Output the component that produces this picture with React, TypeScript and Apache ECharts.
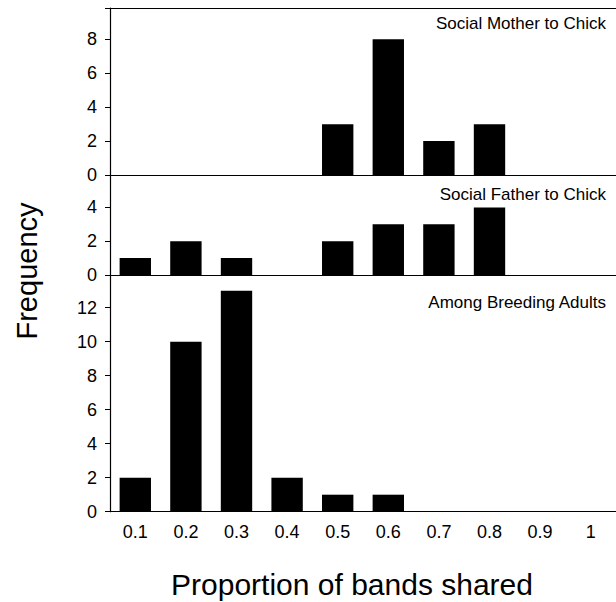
import React, { useEffect, useRef } from "react";
import * as echarts from "echarts";

const categories = ["0.1", "0.2", "0.3", "0.4", "0.5", "0.6", "0.7", "0.8", "0.9", "1"];
const motherToChick = [0, 0, 0, 0, 3, 8, 2, 3, 0, 0];
const fatherToChick = [1, 2, 1, 0, 2, 3, 3, 4, 0, 0];
const amongAdults = [2, 10, 13, 2, 1, 1, 0, 0, 0, 0];
const panelTitles = ["Social Mother to Chick", "Social Father to Chick", "Among Breeding Adults"];
const panelMax = [9.85, 5.92, 13.92];
const yTitle = "Frequency";
const xTitle = "Proportion of bands shared";

const FONT = "'Liberation Sans', Arial, Helvetica, sans-serif";

export default function App() {
  const ref = useRef<HTMLDivElement>(null);
  useEffect(() => {
    document.body.style.margin = "0";
    if (!ref.current) return;
    const chart = echarts.init(ref.current, undefined, { renderer: "svg" });
    const grids = [
      { left: 110, top: 8, height: 167, right: 0 },
      { left: 110, top: 175, height: 100, right: 0 },
      { left: 110, top: 275, height: 236.7, right: 0 },
    ];
    const series = [motherToChick, fatherToChick, amongAdults];
    const xAxes: any[] = grids.map((_, i) => ({
      type: "category",
      gridIndex: i,
      data: categories,
      boundaryGap: true,
      axisLine: { show: true, lineStyle: { color: "#000", width: 1.2 } },
      axisTick: { show: false },
      axisLabel: {
        show: i === 2,
        color: "#000",
        fontSize: 18,
        fontFamily: FONT,
        margin: 11,
      },
      splitLine: { show: false },
    }));
    xAxes.push({
      type: "category",
      gridIndex: 0,
      position: "top",
      data: categories,
      axisLine: { show: true, lineStyle: { color: "#000", width: 1 } },
      axisTick: { show: false },
      axisLabel: { show: false },
      splitLine: { show: false },
    });
    const yAxes = grids.map((_, i) => ({
      type: "value",
      gridIndex: i,
      min: 0,
      max: panelMax[i],
      interval: 2,
      axisLine: { show: true, lineStyle: { color: "#000", width: 1.2 } },
      axisTick: { show: true, inside: false, length: 5, lineStyle: { color: "#000" } },
      axisLabel: {
        color: "#000",
        fontSize: 18,
        fontFamily: FONT,
        margin: 13,
        formatter: (v: number) => (Math.abs(v % 2) < 1e-9 ? String(v) : ""),
      },
      splitLine: { show: false },
    }));
    chart.setOption({
      animation: false,
      backgroundColor: "#fff",
      grid: grids,
      xAxis: xAxes,
      yAxis: yAxes,
      series: series.map((d, i) => ({
        type: "bar",
        xAxisIndex: i,
        yAxisIndex: i,
        data: d,
        barWidth: "62%",
        itemStyle: { color: "#000" },
      })),
      graphic: [
        ...panelTitles.map((t, i) => ({
          type: "text",
          x: 606,
          y: [23, 194, 302][i],
          style: {
            text: t,
            fill: "#000",
            fontSize: 17,
            fontFamily: FONT,
            textAlign: "right",
            textVerticalAlign: "middle",
          },
        })),
        {
          type: "text",
          x: 27,
          y: 271,
          rotation: Math.PI / 2,
          style: {
            text: yTitle,
            fill: "#000",
            fontSize: 29,
            fontFamily: FONT,
            textAlign: "center",
            textVerticalAlign: "middle",
          },
        },
        {
          type: "text",
          x: 352,
          y: 584,
          style: {
            text: xTitle,
            fill: "#000",
            fontSize: 30,
            fontFamily: FONT,
            textAlign: "center",
            textVerticalAlign: "middle",
          },
        },
      ],
    });
    return () => chart.dispose();
  }, []);
  return <div ref={ref} style={{ width: 616, height: 602 }} />;
}
